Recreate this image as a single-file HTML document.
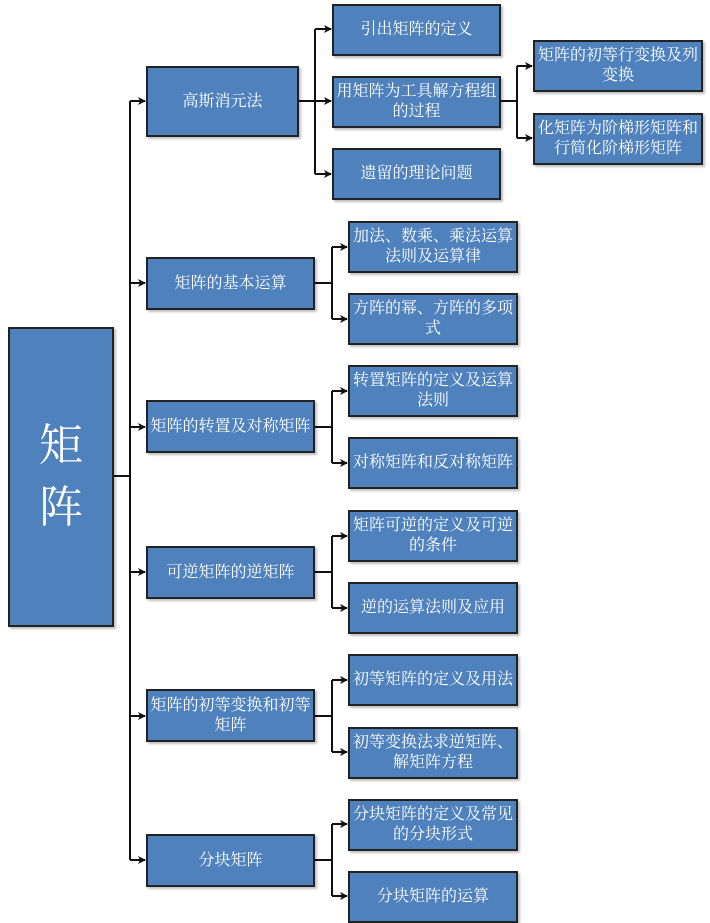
<!DOCTYPE html>
<html><head><meta charset="utf-8"><style>
body{margin:0;width:710px;height:923px;background:#fff;position:relative;overflow:hidden;font-family:"Liberation Serif","Noto Serif CJK SC",serif;}
.b{position:absolute;background:#4f81bd;border:2px solid #222;box-sizing:border-box;color:#fff;display:flex;align-items:center;justify-content:center;text-align:center;font-size:16px;line-height:20px;box-shadow:2px 2px 2px rgba(0,0,0,.25);padding:0 1px;}
svg{position:absolute;left:0;top:0}
</style></head><body>
<svg width="710" height="923">
<defs><marker id="a" markerWidth="8" markerHeight="8" refX="7" refY="4" orient="auto" markerUnits="userSpaceOnUse"><path d="M0,0 L8,4 L0,8 L2,4z" fill="#111"/></marker></defs>
<g stroke="#111" stroke-width="2" fill="none">
<line x1="113" y1="476" x2="130" y2="476"/>
<line x1="130" y1="101" x2="130" y2="860"/>
<path d="M130 101H145" marker-end="url(#a)"/>
<path d="M130 283H145" marker-end="url(#a)"/>
<path d="M130 427H145" marker-end="url(#a)"/>
<path d="M130 572H145" marker-end="url(#a)"/>
<path d="M130 716H145" marker-end="url(#a)"/>
<path d="M130 860H145" marker-end="url(#a)"/>
<line x1="298" y1="101" x2="315" y2="101"/>
<line x1="315" y1="29" x2="315" y2="174"/>
<path d="M315 29H331" marker-end="url(#a)"/>
<path d="M315 101H331" marker-end="url(#a)"/>
<path d="M315 174H331" marker-end="url(#a)"/>
<line x1="500" y1="101" x2="517" y2="101"/>
<line x1="517" y1="66" x2="517" y2="138"/>
<path d="M517 66H532" marker-end="url(#a)"/>
<path d="M517 138H532" marker-end="url(#a)"/>
<line x1="315" y1="283" x2="332" y2="283"/><line x1="332" y1="247" x2="332" y2="319"/>
<path d="M332 247H347" marker-end="url(#a)"/><path d="M332 319H347" marker-end="url(#a)"/>
<line x1="315" y1="427" x2="332" y2="427"/><line x1="332" y1="391" x2="332" y2="463"/>
<path d="M332 391H347" marker-end="url(#a)"/><path d="M332 463H347" marker-end="url(#a)"/>
<line x1="315" y1="572" x2="332" y2="572"/><line x1="332" y1="536" x2="332" y2="608"/>
<path d="M332 536H347" marker-end="url(#a)"/><path d="M332 608H347" marker-end="url(#a)"/>
<line x1="315" y1="716" x2="332" y2="716"/><line x1="332" y1="680" x2="332" y2="752"/>
<path d="M332 680H347" marker-end="url(#a)"/><path d="M332 752H347" marker-end="url(#a)"/>
<line x1="315" y1="860" x2="332" y2="860"/><line x1="332" y1="824" x2="332" y2="896"/>
<path d="M332 824H347" marker-end="url(#a)"/><path d="M332 896H347" marker-end="url(#a)"/>
</g></svg>
<div class="b" style="left:8px;top:327px;width:106px;height:300px;font-size:44px;line-height:62px">矩<br>阵</div>
<div class="b" style="left:146px;top:66px;width:153px;height:71px">高斯消元法</div>
<div class="b" style="left:146px;top:257px;width:169px;height:53px">矩阵的基本运算</div>
<div class="b" style="left:146px;top:400px;width:169px;height:53px">矩阵的转置及对称矩阵</div>
<div class="b" style="left:146px;top:546px;width:169px;height:53px">可逆矩阵的逆矩阵</div>
<div class="b" style="left:146px;top:689px;width:169px;height:53px">矩阵的初等变换和初等矩阵</div>
<div class="b" style="left:146px;top:834px;width:169px;height:53px">分块矩阵</div>
<div class="b" style="left:332px;top:4px;width:169px;height:52px">引出矩阵的定义</div>
<div class="b" style="left:332px;top:76px;width:169px;height:52px">用矩阵为工具解方程组的过程</div>
<div class="b" style="left:332px;top:148px;width:169px;height:52px">遗留的理论问题</div>
<div class="b" style="left:533px;top:40px;width:170px;height:52px">矩阵的初等行变换及列变换</div>
<div class="b" style="left:533px;top:113px;width:170px;height:52px">化矩阵为阶梯形矩阵和行简化阶梯形矩阵</div>
<div class="b" style="left:348px;top:221px;width:170px;height:52px">加法、数乘、乘法运算法则及运算律</div>
<div class="b" style="left:348px;top:293px;width:170px;height:52px">方阵的幂、方阵的多项式</div>
<div class="b" style="left:348px;top:365px;width:170px;height:52px">转置矩阵的定义及运算法则</div>
<div class="b" style="left:348px;top:437px;width:170px;height:52px">对称矩阵和反对称矩阵</div>
<div class="b" style="left:348px;top:510px;width:170px;height:52px">矩阵可逆的定义及可逆的条件</div>
<div class="b" style="left:348px;top:582px;width:170px;height:52px">逆的运算法则及应用</div>
<div class="b" style="left:348px;top:654px;width:170px;height:52px">初等矩阵的定义及用法</div>
<div class="b" style="left:348px;top:727px;width:170px;height:52px">初等变换法求逆矩阵、解矩阵方程</div>
<div class="b" style="left:348px;top:799px;width:170px;height:52px">分块矩阵的定义及常见的分块形式</div>
<div class="b" style="left:348px;top:871px;width:170px;height:52px">分块矩阵的运算</div>
</body></html>
